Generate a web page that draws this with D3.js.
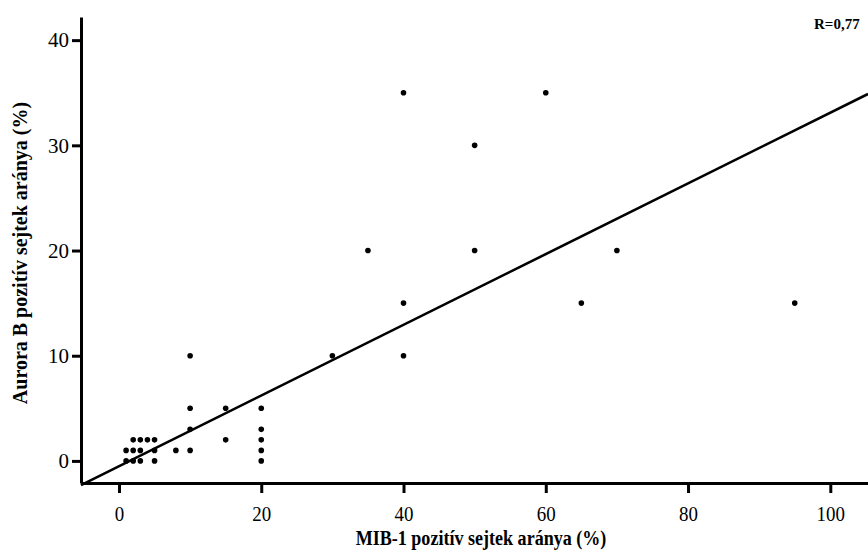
<!DOCTYPE html>
<html>
<head>
<meta charset="utf-8">
<script src="https://cdn.jsdelivr.net/npm/d3@7"></script>
<style>
    body { margin: 0; background: #fff; }
    svg { display: block; }
    .axis path, .axis line { stroke: #000; stroke-width: 3px; }
    .axis text { font-family: "Liberation Serif", "Times New Roman", serif; fill: #000; }
</style>
</head>
<body>
<svg id="chart" width="868" height="550"></svg>
<script>

//data (MIB-1 % vs Aurora B %)
var mib_values = [1, 2, 3, 5, 1, 2, 3, 5, 8, 10, 2, 3, 4, 5, 15, 10, 20, 20, 20, 20,
                  10, 15, 20, 10, 30, 40, 40, 65, 95, 35, 50, 70, 50, 40, 60];
var aurora_values = [0, 0, 0, 0, 1, 1, 1, 1, 1, 1, 2, 2, 2, 2, 2, 3, 3, 2, 1, 0,
                     5, 5, 5, 10, 10, 10, 15, 15, 15, 20, 20, 20, 30, 35, 35];
var x_ticks = [0, 20, 40, 60, 80, 100];
var y_ticks = [0, 10, 20, 30, 40];
//regression line as printed on the figure
var fit_slope = 0.336,
    fit_intercept = -0.5,
    r_label = "R=0,77";

var x_title = "MIB-1 pozitív sejtek aránya (%)",
    y_title = "Aurora B pozitív sejtek aránya (%)";

//the original lettering is a bit narrow, squeeze it sideways
var squeeze = "scale(0.86,1)";

var svg = d3.select("#chart");

//scales - axis lines run from the corner to the top / right edge
var x_scale = d3.scaleLinear().domain([-5.34, 105.3]).range([81, 868]);
var y_scale = d3.scaleLinear().domain([-2.1, 42.2]).range([483, 17]);

var x_axis = d3.axisBottom(x_scale).tickValues(x_ticks).tickSize(10).tickSizeOuter(0).tickPadding(12);
var y_axis = d3.axisLeft(y_scale).tickValues(y_ticks).tickSize(9).tickSizeOuter(0).tickPadding(3);

svg.append("g")
    .attr("class", "axis axis--x")
    .attr("transform", "translate(0," + y_scale.range()[0] + ")")
    .call(x_axis)
    .selectAll("text")
    .attr("font-size", 22)
    .attr("transform", squeeze);

svg.append("g")
    .attr("class", "axis axis--y")
    .attr("transform", "translate(" + x_scale.range()[0] + ",0)")
    .call(y_axis)
    .selectAll("text")
    .attr("font-size", 21);

//regression line across the whole x range
var x_dom = x_scale.domain();
svg.append("line")
    .attr("x1", x_scale(x_dom[0]))
    .attr("y1", y_scale(fit_slope * x_dom[0] + fit_intercept))
    .attr("x2", x_scale(x_dom[1]))
    .attr("y2", y_scale(fit_slope * x_dom[1] + fit_intercept))
    .attr("stroke", "#000")
    .attr("stroke-width", 2.6);

//points
svg.append("g").selectAll("circle")
    .data(mib_values)
    .join("circle")
    .attr("cx", d => x_scale(d))
    .attr("cy", (d, i) => y_scale(aurora_values[i]))
    .attr("r", 2.8)
    .attr("fill", "#000");

//titles
svg.append("text")
    .attr("transform", "translate(481,545) " + squeeze)
    .attr("text-anchor", "middle")
    .attr("font-family", "Liberation Serif, serif")
    .attr("font-weight", "bold")
    .attr("font-size", 21)
    .text(x_title);

svg.append("text")
    .attr("transform", "translate(27,253) rotate(-90)")
    .attr("text-anchor", "middle")
    .attr("font-family", "Liberation Serif, serif")
    .attr("font-weight", "bold")
    .attr("font-size", 20)
    .text(y_title);

svg.append("text")
    .attr("x", 814)
    .attr("y", 29)
    .attr("font-family", "Liberation Serif, serif")
    .attr("font-weight", "bold")
    .attr("font-size", 15)
    .text(r_label);

</script>
</body>
</html>
